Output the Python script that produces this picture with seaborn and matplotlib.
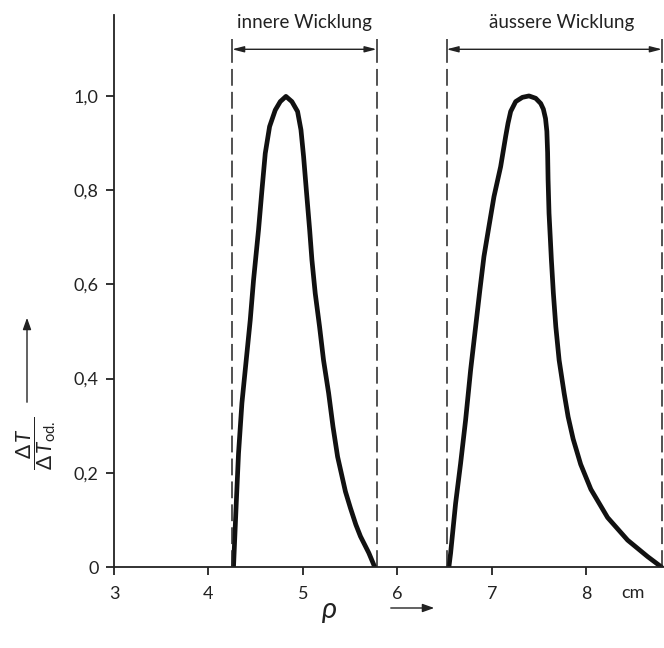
import numpy as np
import pandas as pd
import matplotlib
matplotlib.use('Agg')
import matplotlib.pyplot as plt
import seaborn as sns

# Temperaturverlauf in den Wicklungen
innen_rho = [4.265, 4.294, 4.318, 4.354, 4.389, 4.442, 4.477, 4.530, 4.566,
             4.601, 4.647, 4.707, 4.760, 4.820, 4.883, 4.943, 4.979, 5.007,
             5.036, 5.071, 5.095, 5.130, 5.176, 5.218, 5.272, 5.318, 5.367,
             5.450, 5.503, 5.560, 5.609, 5.697, 5.760]
innen_dt = [0.0, 0.135, 0.241, 0.348, 0.418, 0.524, 0.609, 0.716, 0.800,
            0.878, 0.935, 0.970, 0.988, 0.999, 0.988, 0.967, 0.928, 0.871,
            0.800, 0.716, 0.652, 0.581, 0.510, 0.439, 0.369, 0.298, 0.234,
            0.160, 0.125, 0.090, 0.065, 0.030, 0.0]

aussen_rho = [6.545, 6.563, 6.616, 6.669, 6.722, 6.775, 6.828, 6.873, 6.916,
              6.969, 7.022, 7.093, 7.146, 7.171, 7.199, 7.252, 7.323, 7.393,
              7.464, 7.517, 7.545, 7.568, 7.582, 7.590, 7.595, 7.605, 7.618,
              7.630, 7.651, 7.677, 7.712, 7.765, 7.807, 7.860, 7.940, 8.048,
              8.225, 8.437, 8.649, 8.795]
aussen_dt = [0.0, 0.029, 0.135, 0.220, 0.312, 0.418, 0.51, 0.588, 0.659,
             0.723, 0.786, 0.850, 0.914, 0.942, 0.967, 0.988, 0.997, 1.0,
             0.995, 0.984, 0.972, 0.952, 0.925, 0.880, 0.822, 0.751, 0.700,
             0.652, 0.581, 0.510, 0.439, 0.369, 0.319, 0.272, 0.218, 0.165,
             0.105, 0.057, 0.022, 0.0]

# Wicklungsgrenzen
innere_wicklung = (4.25, 5.78)
aeussere_wicklung = (6.52, 8.80)

x_ticks = [3, 4, 5, 6, 7, 8]
y_ticks = [0, 0.2, 0.4, 0.6, 0.8, 1.0]
y_labels = ['0', '0,2', '0,4', '0,6', '0,8', '1,0']

sns.set_style('ticks')
plt.rcParams['font.family'] = ['Lato', 'DejaVu Sans']
plt.rcParams['mathtext.fontset'] = 'custom'
plt.rcParams['mathtext.rm'] = 'Lato'
plt.rcParams['mathtext.it'] = 'Lato:italic'

df_innen = pd.DataFrame({'rho': innen_rho, 'dT': innen_dt})
df_aussen = pd.DataFrame({'rho': aussen_rho, 'dT': aussen_dt})

fig = plt.figure(figsize=(6.64, 6.48), dpi=100)
ax = fig.add_axes([0.1717, 0.125, 0.828, 0.852])

for df in (df_innen, df_aussen):
    sns.lineplot(data=df, x='rho', y='dT', sort=False, color='#111111',
                 linewidth=3.4, ax=ax, solid_joinstyle='round', solid_capstyle='round')

ax.set_xlim(3, 8.82)
ax.set_ylim(0, 1.172)

# Grenzen der Wicklungen, Pfeile und Beschriftung
for (a, b), name, tx in [(innere_wicklung, 'innere Wicklung', None),
                         (aeussere_wicklung, 'äussere Wicklung', 7.74)]:
    ax.vlines([a, b], 0, 1.085, colors='#222222', linestyles=(0, (11, 4)), linewidth=1.1)
    ax.vlines([a, b], 1.085, 1.12, colors='#222222', linewidth=1.1)
    ax.annotate('', xy=(a, 1.099), xytext=(b, 1.099),
                arrowprops=dict(arrowstyle='<|-|>,head_length=0.7,head_width=0.18',
                                color='#222222', lw=1.0, shrinkA=0, shrinkB=0))
    ax.text(tx if tx is not None else (a + b) / 2, 1.155, name, ha='center', va='center',
            fontsize=13.5, color='#222222')

ax.set_xticks(x_ticks)
ax.set_xticklabels([str(t) for t in x_ticks])
ax.set_yticks(y_ticks)
ax.set_yticklabels(y_labels)
ax.tick_params(axis='both', direction='out', length=6, width=1.3, labelsize=13,
               colors='#222222')
ax.tick_params(axis='x', pad=8)
ax.tick_params(axis='y', pad=5)
for s in ['top', 'right']:
    ax.spines[s].set_visible(False)
for s in ['left', 'bottom']:
    ax.spines[s].set_linewidth(1.3)
    ax.spines[s].set_color('#222222')
ax.set_xlabel('')
ax.set_ylabel('')

ax.text(8.49, -0.056, 'cm', ha='center', va='center', fontsize=13, color='#222222')

# Achsenbeschriftungen mit Pfeilen
fig.text(330 / 664, 1 - 610 / 648, 'ρ', ha='center', va='center', fontsize=21,
         style='italic', color='#222222')
fig.add_artist(matplotlib.patches.FancyArrowPatch(
    (388 / 664, 1 - 608 / 648), (437 / 664, 1 - 608 / 648), transform=fig.transFigure,
    arrowstyle='-|>,head_length=7,head_width=2.5', color='#222222', lw=1.0))

fig.text(36 / 664, 1 - 443 / 648, r'$\dfrac{\Delta\,T}{\Delta\,T_{\mathrm{od.}}}$',
         rotation=90, ha='center', va='center', fontsize=15, color='#222222')
fig.add_artist(matplotlib.patches.FancyArrowPatch(
    (27 / 664, 1 - 405 / 648), (27 / 664, 1 - 315 / 648), transform=fig.transFigure,
    arrowstyle='-|>,head_length=7,head_width=2.5', color='#222222', lw=1.0))

fig.savefig('out.png', dpi=100)
